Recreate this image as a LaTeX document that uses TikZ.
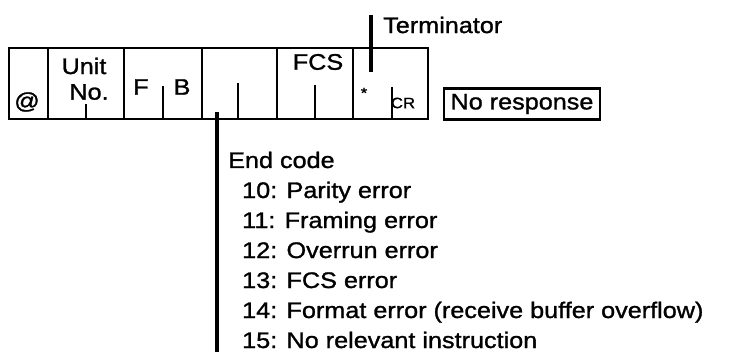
\documentclass[tikz,border=0pt]{standalone}
\usepackage{fontspec}
\setmainfont{Liberation Sans}[FakeStretch=1.12,FakeBold=1.2]
\begin{document}
\begin{tikzpicture}[x=1pt,y=-1pt,
  txt/.style={inner sep=0pt, font=\fontsize{22.5}{26}\selectfont},
  small/.style={inner sep=0pt, font=\fontsize{15}{17}\selectfont},
  frame/.style={line width=2.7pt},
  tick/.style={line width=2.2pt},
  heavy/.style={line width=4.5pt}]
\useasboundingbox (0,0) rectangle (733,358);
% frame of the response format
\draw[frame] (9,48) rectangle (428,119);
\foreach \x in {48,124,202,277,353} \draw[frame] (\x,48) -- (\x,119);
% field texts
\node[txt] (at) at (27,102) {@};
\node[txt] (unit) at (84,66) {Unit};
\node[txt] (no) at (89,92) {No.};
\node[txt] (f) at (141,87) {F};
\node[txt] (b) at (182,87) {B};
\node[txt] (fcs) at (318,62) {FCS};
\node[small] (star) at (364,93) {*};
\node[small] (cr) at (403,103) {CR};
% character separators
\draw[tick] (86,104) -- (86,119);
\draw[tick] (163,86) -- (163,119);
\draw[tick] (238,83) -- (238,119);
\draw[tick] (315,85) -- (315,119);
\draw[tick] (392,87) -- (392,119);
% terminator
\coordinate (tt) at (371,15);
\coordinate (tb) at (371,72);
\draw[heavy] (tt) -- (tb);
\node[txt, anchor=west] (term) at (383,25) {Terminator};
% no response
\node[txt, draw, line width=2.2pt, minimum width=156pt, minimum height=31pt] (nr) at (522,104) {No response};
% end code
\coordinate (et) at (217,112);
\coordinate (eb) at (217,352);
\draw[heavy] (et) -- (eb);
\node[txt, anchor=base west] (ec) at (228,168) {End code};
\node[txt, anchor=base west] (e10) at (242,198) {10: Parity error};
\node[txt, anchor=base west] (e11) at (242,228) {11: Framing error};
\node[txt, anchor=base west] (e12) at (242,258) {12: Overrun error};
\node[txt, anchor=base west] (e13) at (242,288) {13: FCS error};
\node[txt, anchor=base west] (e14) at (242,318) {14: Format error (receive buffer overflow)};
\node[txt, anchor=base west] (e15) at (242,348) {15: No relevant instruction};
\end{tikzpicture}
\end{document}
